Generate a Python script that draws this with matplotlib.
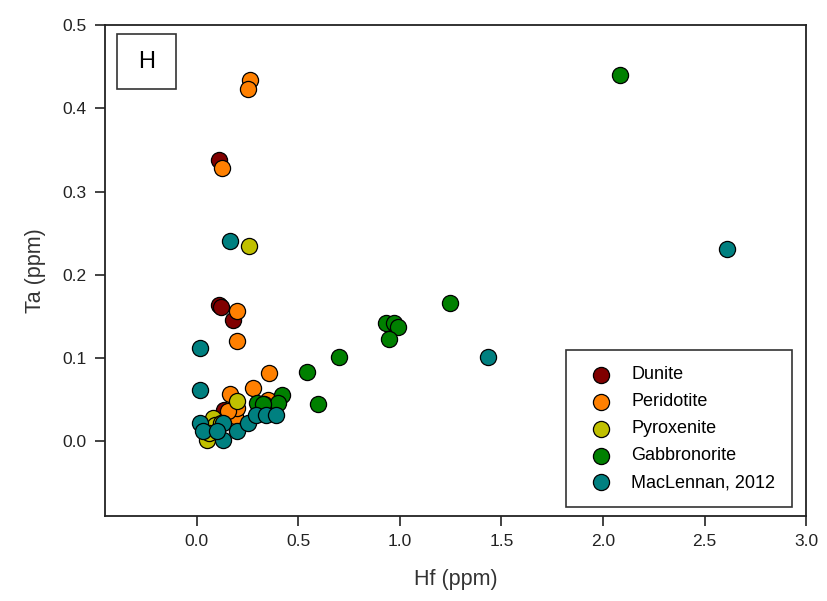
import matplotlib
matplotlib.use('Agg')
import matplotlib.pyplot as plt
from matplotlib.patches import Rectangle

plt.rcParams['font.family'] = ['Liberation Sans', 'DejaVu Sans']

# Hf (ppm) / Ta (ppm) per rock group
dunite_hf = [0.113, 0.113, 0.120, 0.179, 0.135]
dunite_ta = [0.338, 0.164, 0.162, 0.146, 0.038]

peridotite_hf = [0.261, 0.251, 0.127, 0.200, 0.200, 0.356, 0.277, 0.167, 0.351, 0.187, 0.200, 0.154, 0.330]
peridotite_ta = [0.434, 0.423, 0.328, 0.157, 0.121, 0.082, 0.064, 0.057, 0.050, 0.030, 0.040, 0.036, 0.045]

pyroxenite_hf = [0.256, 0.200, 0.053, 0.080, 0.090, 0.120, 0.060]
pyroxenite_ta = [0.235, 0.048, 0.002, 0.028, 0.020, 0.022, 0.010]

gabbro_hf = [2.084, 1.248, 0.934, 0.970, 0.992, 0.947, 0.701, 0.543, 0.600, 0.422, 0.400, 0.299, 0.327]
gabbro_ta = [0.440, 0.166, 0.142, 0.142, 0.138, 0.123, 0.101, 0.083, 0.045, 0.056, 0.046, 0.046, 0.045]

maclennan_hf = [2.61, 1.435, 0.163, 0.015, 0.015, 0.015, 0.031, 0.130, 0.130, 0.200, 0.253, 0.294, 0.343, 0.393, 0.100]
maclennan_ta = [0.231, 0.101, 0.241, 0.112, 0.062, 0.022, 0.012, 0.022, 0.002, 0.012, 0.022, 0.032, 0.032, 0.032, 0.012]

fig = plt.figure(figsize=(8.27, 6.01), dpi=100)
ax = fig.add_axes([0.127, 0.141, 0.848, 0.817])

groups = [
    (dunite_hf, dunite_ta, '#800000', 'Dunite'),
    (peridotite_hf, peridotite_ta, '#FF8000', 'Peridotite'),
    (pyroxenite_hf, pyroxenite_ta, '#C0C000', 'Pyroxenite'),
    (gabbro_hf, gabbro_ta, '#008000', 'Gabbronorite'),
    (maclennan_hf, maclennan_ta, '#008080', 'MacLennan, 2012'),
]
for hf, ta, col, name in groups:
    ax.scatter(hf, ta, s=135, c=col, edgecolors='black', linewidths=0.9, label=name, zorder=3)

ax.set_xlim(-0.45, 3.0)
ax.set_ylim(-0.09, 0.5)
ax.set_xticks([0.0, 0.5, 1.0, 1.5, 2.0, 2.5, 3.0])
ax.set_yticks([0.0, 0.1, 0.2, 0.3, 0.4, 0.5])
ax.set_xticklabels(['0.0', '0.5', '1.0', '1.5', '2.0', '2.5', '3.0'])
ax.set_yticklabels(['0.0', '0.1', '0.2', '0.3', '0.4', '0.5'])
ax.tick_params(direction='out', length=7, width=1.2, labelsize=12.5, pad=6, colors='#222222')
for sp in ax.spines.values():
    sp.set_linewidth(1.3)
    sp.set_color('#222222')

ax.set_xlabel('Hf (ppm)', fontsize=15.5, labelpad=14, color='#333333')
ax.set_ylabel('Ta (ppm)', fontsize=15.5, labelpad=12, color='#333333')

# panel letter
ax.add_patch(Rectangle((0.017, 0.870), 0.084, 0.112, transform=ax.transAxes,
                       fill=False, edgecolor='#333333', linewidth=1.2, zorder=4))
ax.text(0.059, 0.926, 'H', transform=ax.transAxes, fontsize=17, ha='center', va='center', zorder=5)

leg = ax.legend(loc='lower right', bbox_to_anchor=(0.979, 0.018), fontsize=13,
                frameon=True, fancybox=False, edgecolor='#333333', framealpha=1,
                borderpad=0.9, labelspacing=0.55, handletextpad=0.7, markerscale=1.0,
                borderaxespad=0)
leg.get_frame().set_linewidth(1.2)

fig.savefig('out.png', dpi=100)
